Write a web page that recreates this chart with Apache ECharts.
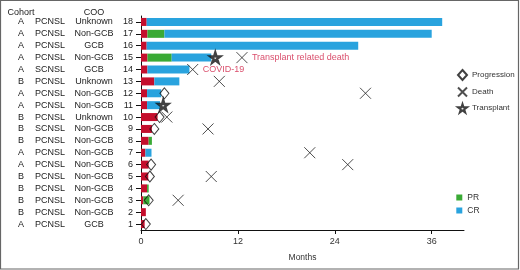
<!DOCTYPE html>
<html>
<head>
<meta charset="utf-8">
<script src="https://cdn.jsdelivr.net/npm/echarts@6/dist/echarts.min.js"></script>
<style>
  body { margin: 0; background: #fff; }
  #main { width: 520px; height: 270px; }
</style>
</head>
<body>
<div id="main"></div>
<script>
// patients, bottom (1) to top (18)
var rows = ['1', '2', '3', '4', '5', '6', '7', '8', '9', '10', '11', '12', '13', '14', '15', '16', '17', '18'];
var cohort = ['A', 'B', 'B', 'B', 'B', 'A', 'A', 'B', 'B', 'B', 'A', 'A', 'B', 'A', 'A', 'A', 'A', 'A'];
var disease = ['PCNSL', 'PCNSL', 'PCNSL', 'PCNSL', 'PCNSL', 'PCNSL', 'PCNSL', 'PCNSL', 'SCNSL', 'PCNSL',
    'PCNSL', 'PCNSL', 'PCNSL', 'SCNSL', 'PCNSL', 'PCNSL', 'PCNSL', 'PCNSL'];
var coo = ['GCB', 'Non-GCB', 'Non-GCB', 'Non-GCB', 'Non-GCB', 'Non-GCB', 'Non-GCB', 'Non-GCB', 'Non-GCB', 'Unknown',
    'Non-GCB', 'Non-GCB', 'Unknown', 'GCB', 'Non-GCB', 'GCB', 'Non-GCB', 'Unknown'];

// segment lengths in months
var treatment = [0.45, 0.6, 0.3, 0.75, 0.9, 0.95, 0.55, 0.95, 1.35, 2.05, 0.75, 0.75, 1.65, 0.8, 0.8, 0.7, 0.8, 0.7];
var pr = [0, 0, 0.75, 0.2, 0, 0, 0, 0.4, 0, 0, 0, 0, 0, 0, 3.0, 0, 2.1, 0];
var cr = [0, 0, 0, 0, 0, 0, 0.75, 0, 0, 0, 1.6, 1.75, 3.1, 5.2, 4.9, 26.2, 33.1, 36.6];

// events [months, patient]
var progression = [[0.6, 1], [0.95, 3], [1.1, 5], [1.25, 6], [1.65, 9], [2.3, 10], [2.9, 12]];
var death = [[4.6, 3], [8.7, 5], [25.6, 6], [20.9, 7], [8.3, 9], [3.2, 10], [27.8, 12], [9.7, 13], [6.4, 14], [12.5, 15]];
var transplant = [[2.75, 11], [9.2, 15]];
var deathNotes = { 14: 'COVID-19', 15: 'Transplant related death' };

var xTicks = [0, 12, 24, 36];

var font = 'Liberation Sans, Arial, sans-serif';
var red = '#C40F2D', green = '#3AAA35', blue = '#29A3DE', noteRed = '#D01F45';
var crossPath = 'path://M0,0L10,10M10,0L0,10';
var starPath = 'path://M50,0L61,35L98,35L68,57L79,91L50,70L21,91L32,57L2,35L39,35Z';

function toPoints(list) {
    return list.map(function (d) { return [d[0], d[1] - 1]; });
}

var deathData = death.map(function (d) {
    var item = { value: [d[0], d[1] - 1] };
    if (deathNotes[d[1]]) {
        item.label = {
            show: true, position: 'right', distance: 2,
            formatter: deathNotes[d[1]], color: noteRed, fontSize: 9, fontFamily: font
        };
    }
    return item;
});

function columnAxis(labels, offset, name) {
    return {
        type: 'category', data: labels, position: 'left', offset: offset,
        name: name || '', nameLocation: 'end', nameGap: -1,
        nameTextStyle: { color: '#222', fontSize: 9, fontFamily: font },
        axisLine: { show: false }, axisTick: { show: false },
        axisLabel: { interval: 0, margin: 0, align: 'center', color: '#222', fontSize: 9, fontFamily: font }
    };
}

var dom = document.getElementById('main');
var myChart = echarts.init(dom);
var option = {
    animation: false,
    grid: { left: 141, right: 56, top: 16, bottom: 40 },
    graphic: [{
        type: 'rect', shape: { x: 0.5, y: 0.5, width: 518, height: 268.5 },
        style: { fill: 'none', stroke: '#666', lineWidth: 1.2 }, silent: true
    }],
    legend: [{
        data: ['Progression', 'Death', 'Transplant'],
        orient: 'vertical', left: 450.5, top: 64, itemWidth: 9, itemHeight: 10, itemGap: 4,
        textStyle: { color: '#333', fontSize: 8, fontFamily: font }
    }, {
        data: [{ name: 'PR', icon: 'rect' }, { name: 'CR', icon: 'rect' }],
        orient: 'vertical', left: 451.3, top: 188, itemWidth: 6, itemHeight: 6, itemGap: 4,
        textStyle: { color: '#333', fontSize: 8.5, fontFamily: font }
    }],
    xAxis: {
        type: 'value', min: 0, max: 40,
        name: 'Months', nameLocation: 'middle', nameGap: 23,
        nameTextStyle: { color: '#333', fontSize: 8.5, fontFamily: font },
        axisLine: { show: true, lineStyle: { color: '#111' } },
        axisTick: { show: true, length: 4, customValues: xTicks, lineStyle: { color: '#111' } },
        axisLabel: { customValues: xTicks, color: '#333', fontSize: 9, fontFamily: font, margin: 7 },
        splitLine: { show: false }
    },
    yAxis: [{
        type: 'category', data: rows, position: 'left',
        axisLine: { show: true, lineStyle: { color: '#111' } },
        axisTick: { show: true, alignWithLabel: true, length: 5, lineStyle: { color: '#111' } },
        axisLabel: { interval: 0, margin: 8, color: '#222', fontSize: 9, fontFamily: font }
    },
        columnAxis(cohort, 120, 'Cohort'),
        columnAxis(disease, 91),
        columnAxis(coo, 47, 'COO')
    ],
    series: [
        { name: 'Treatment', type: 'bar', stack: 'total', barWidth: 8, data: treatment, itemStyle: { color: red } },
        { name: 'PR', type: 'bar', stack: 'total', barWidth: 8, data: pr, itemStyle: { color: green } },
        { name: 'CR', type: 'bar', stack: 'total', barWidth: 8, data: cr, itemStyle: { color: blue } },
        {
            name: 'Progression', type: 'scatter', symbol: 'diamond', symbolSize: [9, 11],
            data: toPoints(progression),
            itemStyle: { color: 'rgba(255,255,255,0)', borderColor: '#111', borderWidth: 1 }
        },
        {
            name: 'Death', type: 'scatter', symbol: crossPath, symbolSize: 11,
            data: deathData,
            itemStyle: { color: 'none', borderColor: '#222', borderWidth: 1 }
        },
        {
            name: 'Transplant', type: 'scatter', symbol: starPath, symbolSize: 10,
            data: toPoints(transplant),
            itemStyle: { color: '#fff', borderColor: '#111', borderWidth: 2.5 }
        }
    ]
};
if (option && typeof option === "object") {
    myChart.setOption(option, true);
}
</script>
</body>
</html>
